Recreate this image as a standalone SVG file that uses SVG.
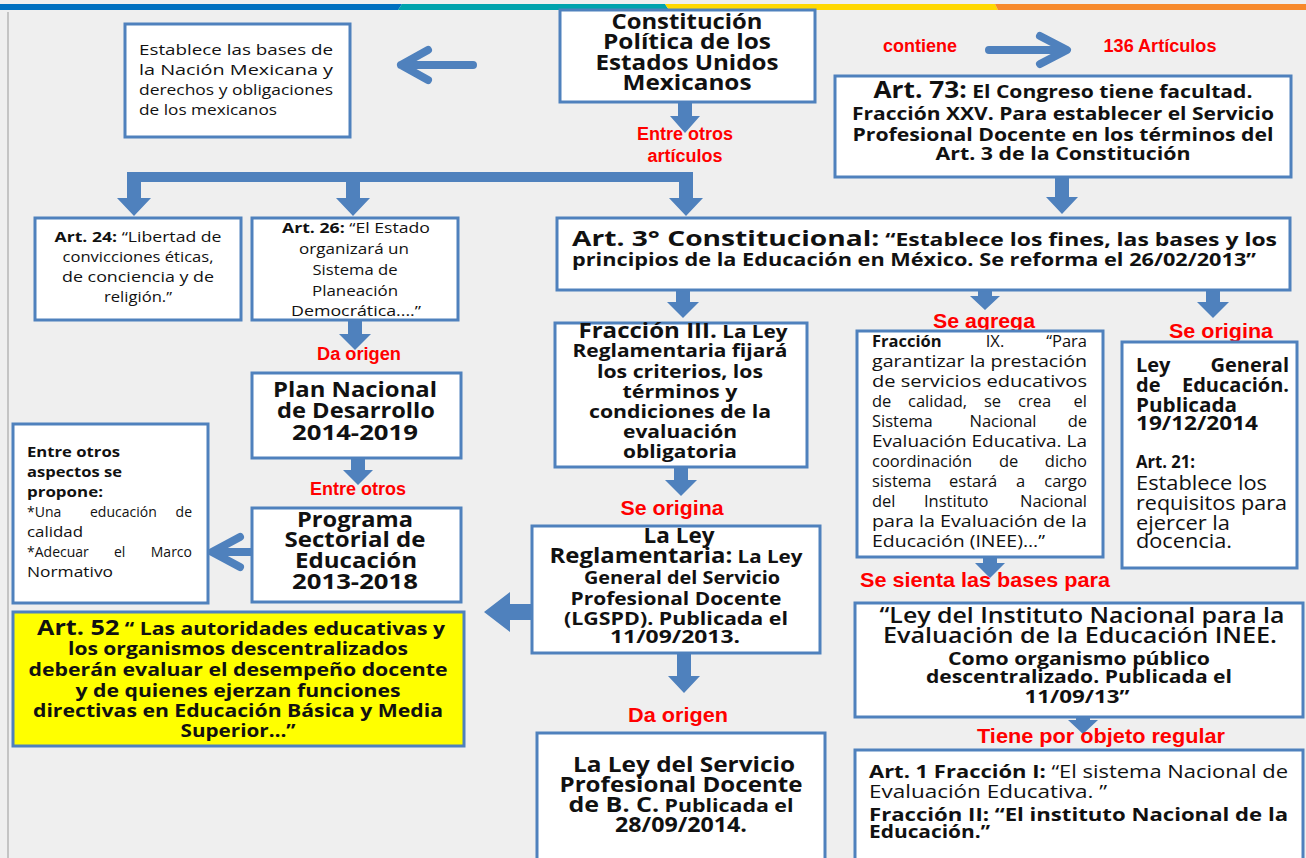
<svg xmlns="http://www.w3.org/2000/svg" width="1306" height="858" viewBox="0 0 1306 858">
<style>
.box{fill:#fff;stroke:#4f81bd;stroke-width:3}
.ybox{fill:#ffff00;stroke:#4f81bd;stroke-width:3}
.arr{fill:#4f81bd}
.chev{fill:none;stroke:#4f81bd;stroke-width:8;stroke-linecap:round;stroke-linejoin:round}
.red{font-family:"Liberation Sans",Arial,sans-serif;font-weight:bold;fill:#ff0000;text-anchor:middle}
.r18{font-size:18px}
.r21{font-size:21px}
.k{font-family:"Open Sans","Liberation Sans",sans-serif;fill:#111}
.b{font-weight:bold}
.m{text-anchor:middle}
.e{text-anchor:end}
</style>
<rect x="0" y="0" width="1306" height="858" fill="#efefef"/>
<g id="topbar">
<polygon points="0,4 402,4 398,10 0,10" fill="#0070c0"/>
<polygon points="402,4 665,4 669,10 398,10" fill="#00a3ad"/>
<polygon points="665,4 995,4 998,10 669,10" fill="#ffd800"/>
<polygon points="995,4 1306,4 1306,10 998,10" fill="#f7892b"/>
</g>
<line x1="8" y1="12" x2="8" y2="858" stroke="#c4c4c4" stroke-width="2"/>

<g id="connectors">
<path class="chev" d="M473,65 L401,65 M428,50 L401,65 L428,80"/>
<path class="chev" d="M989,50 L1066,50 M1040,36 L1067,50 L1040,64"/>
<path class="arr" d="M678,102 L692,102 L692,116 L700,116 L685,133 L670,116 L678,116 Z"/>
<rect class="arr" x="127" y="172" width="566" height="10"/>
<path class="arr" d="M127,177 L141,177 L141,198 L151,198 L134,216 L117,198 L127,198 Z"/>
<path class="arr" d="M346,177 L360,177 L360,198 L370,198 L353,216 L336,198 L346,198 Z"/>
<path class="arr" d="M679,177 L693,177 L693,198 L703,198 L686,216 L669,198 L679,198 Z"/>
<path class="arr" d="M1055,177 L1069,177 L1069,197 L1078,197 L1062,214 L1046,197 L1055,197 Z"/>
<path class="arr" d="M676,290 L690,290 L690,302 L699,302 L683,318 L667,302 L676,302 Z"/>
<path class="arr" d="M978,290 L992,290 L992,296 L1000,296 L985,310 L970,296 L978,296 Z"/>
<path class="arr" d="M1206,290 L1220,290 L1220,302 L1229,302 L1213,318 L1197,302 L1206,302 Z"/>
<path class="arr" d="M348,320 L362,320 L362,334 L371,334 L355,350 L339,334 L348,334 Z"/>
<path class="arr" d="M351,458 L365,458 L365,470 L373,470 L358,485 L343,470 L351,470 Z"/>
<path class="chev" d="M252,552 L214,552 M240,537 L212,552 L240,567"/>
<path class="arr" d="M674,467 L688,467 L688,480 L697,480 L681,496 L665,480 L674,480 Z"/>
<path class="arr" d="M677,653 L691,653 L691,676 L700,676 L684,693 L668,676 L677,676 Z"/>
<path class="arr" d="M531,604 L510,604 L510,592 L484,612 L510,632 L510,620 L531,620 Z"/>
<path class="arr" d="M983,557 L997,557 L997,563 L1005,563 L990,578 L975,563 L983,563 Z"/>
<path class="arr" d="M1076,717 L1090,717 L1090,720 L1098,720 L1083,734 L1068,720 L1076,720 Z"/>
</g>

<g id="labels">
<text class="red r18" x="685" y="140" textLength="96" lengthAdjust="spacingAndGlyphs">Entre otros</text>
<text class="red r18" x="685" y="162" textLength="75" lengthAdjust="spacingAndGlyphs">artículos</text>
<text class="red r18" x="920" y="52" textLength="74" lengthAdjust="spacingAndGlyphs">contiene</text>
<text class="red r18" x="1160" y="52" textLength="113" lengthAdjust="spacingAndGlyphs">136 Artículos</text>
<text class="red r18" x="359" y="360" textLength="84" lengthAdjust="spacingAndGlyphs">Da origen</text>
<text class="red r18" x="358" y="495" textLength="96" lengthAdjust="spacingAndGlyphs">Entre otros</text>
<text class="red r21" x="672" y="515" textLength="103" lengthAdjust="spacingAndGlyphs">Se origina</text>
<text class="red r21" x="678" y="722" textLength="100" lengthAdjust="spacingAndGlyphs">Da origen</text>
<text class="red r21" x="984" y="328" textLength="102" lengthAdjust="spacingAndGlyphs">Se agrega</text>
<text class="red r21" x="1221" y="338" textLength="104" lengthAdjust="spacingAndGlyphs">Se origina</text>
<text class="red r21" x="985" y="587" textLength="250" lengthAdjust="spacingAndGlyphs">Se sienta las bases para</text>
<text class="red r21" x="1101" y="743" textLength="248" lengthAdjust="spacingAndGlyphs">Tiene por objeto regular</text>
</g>

<g id="n-establece">
<rect class="box" x="125" y="24" width="225" height="113"/>
<g class="k" font-size="15">
<text x="139" y="55" textLength="194" lengthAdjust="spacingAndGlyphs">Establece las bases de</text>
<text x="139" y="75" textLength="194" lengthAdjust="spacingAndGlyphs">la Nación Mexicana y</text>
<text x="139" y="95" textLength="194" lengthAdjust="spacingAndGlyphs">derechos y obligaciones</text>
<text x="139" y="115" textLength="138" lengthAdjust="spacingAndGlyphs">de los mexicanos</text>
</g>
</g>

<g id="n-constitucion">
<rect class="box" x="560" y="10" width="255" height="92"/>
<g class="k b m" font-size="21">
<text x="687" y="29" textLength="151" lengthAdjust="spacingAndGlyphs">Constitución</text>
<text x="687" y="49" textLength="168" lengthAdjust="spacingAndGlyphs">Política de los</text>
<text x="687" y="70" textLength="183" lengthAdjust="spacingAndGlyphs">Estados Unidos</text>
<text x="687" y="90" textLength="129" lengthAdjust="spacingAndGlyphs">Mexicanos</text>
</g>
</g>

<g id="n-art73">
<rect class="box" x="835" y="76" width="456" height="101"/>
<g class="k b m" font-size="18.5">
<text x="1063" y="98" textLength="379" lengthAdjust="spacingAndGlyphs"><tspan font-size="23">Art. 73:</tspan> El Congreso tiene facultad.</text>
<text x="1063" y="120" textLength="422" lengthAdjust="spacingAndGlyphs">Fracción XXV. Para establecer el Servicio</text>
<text x="1063" y="141" textLength="421" lengthAdjust="spacingAndGlyphs">Profesional Docente en los términos del</text>
<text x="1063" y="160" textLength="255" lengthAdjust="spacingAndGlyphs">Art. 3 de la Constitución</text>
</g>
</g>

<g id="n-art24">
<rect class="box" x="35" y="218" width="206" height="102"/>
<g class="k m" font-size="15">
<text x="138" y="242" textLength="167" lengthAdjust="spacingAndGlyphs"><tspan font-weight="bold">Art. 24:</tspan> “Libertad de</text>
<text x="138" y="262" textLength="151" lengthAdjust="spacingAndGlyphs">convicciones éticas,</text>
<text x="138" y="282" textLength="152" lengthAdjust="spacingAndGlyphs">de conciencia y de</text>
<text x="138" y="302" textLength="68" lengthAdjust="spacingAndGlyphs">religión.”</text>
</g>
</g>

<g id="n-art26">
<rect class="box" x="252" y="218" width="206" height="102"/>
<g class="k m" font-size="15">
<text x="356" y="233" textLength="148" lengthAdjust="spacingAndGlyphs"><tspan font-weight="bold">Art. 26:</tspan> “El Estado</text>
<text x="354" y="254" textLength="110" lengthAdjust="spacingAndGlyphs">organizará un</text>
<text x="355" y="275" textLength="85" lengthAdjust="spacingAndGlyphs">Sistema de</text>
<text x="355" y="296" textLength="86" lengthAdjust="spacingAndGlyphs">Planeación</text>
<text x="356" y="316" textLength="130" lengthAdjust="spacingAndGlyphs">Democrática....”</text>
</g>
</g>

<g id="n-art3">
<rect class="box" x="557" y="218" width="733" height="72"/>
<g class="k b" font-size="17.5">
<text x="572" y="246" textLength="705" lengthAdjust="spacingAndGlyphs"><tspan font-size="21.5">Art. 3°  Constitucional:</tspan> “Establece los fines, las bases y los</text>
<text x="572" y="266" textLength="684" lengthAdjust="spacingAndGlyphs">principios de la Educación en México. Se reforma el 26/02/2013”</text>
</g>
</g>

<g id="n-fraccion3">
<rect class="box" x="555" y="323" width="252" height="144"/>
<g class="k b m" font-size="18.5">
<text x="683" y="338" textLength="209" lengthAdjust="spacingAndGlyphs"><tspan font-size="21.5">Fracción III.</tspan> La Ley</text>
<text x="680" y="357" textLength="215" lengthAdjust="spacingAndGlyphs">Reglamentaria fijará</text>
<text x="680" y="378" textLength="166" lengthAdjust="spacingAndGlyphs">los criterios, los</text>
<text x="680" y="398" textLength="115" lengthAdjust="spacingAndGlyphs">términos y</text>
<text x="680" y="418" textLength="182" lengthAdjust="spacingAndGlyphs">condiciones de la</text>
<text x="680" y="438" textLength="114" lengthAdjust="spacingAndGlyphs">evaluación</text>
<text x="680" y="458" textLength="114" lengthAdjust="spacingAndGlyphs">obligatoria</text>
</g>
</g>

<g id="n-leyreglamentaria">
<rect class="box" x="532" y="526" width="288" height="127"/>
<g class="k b m" font-size="18.5">
<text x="679" y="543" font-size="21.5" textLength="71" lengthAdjust="spacingAndGlyphs">La Ley</text>
<text x="676" y="563" textLength="253" lengthAdjust="spacingAndGlyphs"><tspan font-size="21.5">Reglamentaria:</tspan> La Ley</text>
<text x="682" y="584" textLength="196" lengthAdjust="spacingAndGlyphs">General del Servicio</text>
<text x="676" y="605" textLength="211" lengthAdjust="spacingAndGlyphs">Profesional Docente</text>
<text x="676" y="625" textLength="224" lengthAdjust="spacingAndGlyphs">(LGSPD). Publicada el</text>
<text x="675" y="643" textLength="130" lengthAdjust="spacingAndGlyphs">11/09/2013.</text>
</g>
</g>

<g id="n-leyservicio">
<rect class="box" x="537" y="733" width="288" height="140"/>
<g class="k b m" font-size="20.5">
<text x="684" y="772" textLength="222" lengthAdjust="spacingAndGlyphs">La Ley del Servicio</text>
<text x="681" y="792" textLength="243" lengthAdjust="spacingAndGlyphs">Profesional Docente</text>
<text x="681" y="812" textLength="225" lengthAdjust="spacingAndGlyphs">de B. C.<tspan font-size="17.5"> Publicada el</tspan></text>
<text x="681" y="832" textLength="132" lengthAdjust="spacingAndGlyphs">28/09/2014.</text>
</g>
</g>

<g id="n-plan">
<rect class="box" x="252" y="373" width="209" height="85"/>
<g class="k b m" font-size="21.5">
<text x="355" y="397" textLength="164" lengthAdjust="spacingAndGlyphs">Plan Nacional</text>
<text x="356" y="418" textLength="158" lengthAdjust="spacingAndGlyphs">de Desarrollo</text>
<text x="355" y="440" textLength="126" lengthAdjust="spacingAndGlyphs">2014-2019</text>
</g>
</g>

<g id="n-programa">
<rect class="box" x="252" y="508" width="209" height="94"/>
<g class="k b m" font-size="21.5">
<text x="355" y="527" textLength="116" lengthAdjust="spacingAndGlyphs">Programa</text>
<text x="355" y="547" textLength="141" lengthAdjust="spacingAndGlyphs">Sectorial de</text>
<text x="356" y="568" textLength="122" lengthAdjust="spacingAndGlyphs">Educación</text>
<text x="355" y="589" textLength="126" lengthAdjust="spacingAndGlyphs">2013-2018</text>
</g>
</g>

<g id="n-aspectos">
<rect class="box" x="13" y="424" width="195" height="179"/>
<g class="k" font-size="14">
<text x="27" y="457" font-weight="bold" textLength="93" lengthAdjust="spacingAndGlyphs">Entre otros</text>
<text x="27" y="477" font-weight="bold" textLength="95" lengthAdjust="spacingAndGlyphs">aspectos se</text>
<text x="27" y="497" font-weight="bold" textLength="76" lengthAdjust="spacingAndGlyphs">propone:</text>
<text x="27" y="517">*Una</text>
<text x="90" y="517">educación</text>
<text x="192" y="517" class="e">de</text>
<text x="27" y="537" textLength="56" lengthAdjust="spacingAndGlyphs">calidad</text>
<text x="27" y="557">*Adecuar</text>
<text x="114" y="557">el</text>
<text x="192" y="557" class="e">Marco</text>
<text x="27" y="577" textLength="86" lengthAdjust="spacingAndGlyphs">Normativo</text>
</g>
</g>

<g id="n-art52">
<rect class="ybox" x="13" y="612" width="451" height="134"/>
<g class="k b m" font-size="18">
<text x="241" y="635" textLength="408" lengthAdjust="spacingAndGlyphs"><tspan font-size="21.5">Art. 52</tspan> “ Las autoridades educativas y</text>
<text x="238" y="655" textLength="340" lengthAdjust="spacingAndGlyphs">los organismos descentralizados</text>
<text x="238" y="676" textLength="419" lengthAdjust="spacingAndGlyphs">deberán evaluar el desempeño docente</text>
<text x="238" y="697" textLength="325" lengthAdjust="spacingAndGlyphs">y de quienes ejerzan funciones</text>
<text x="238" y="717" textLength="410" lengthAdjust="spacingAndGlyphs">directivas en Educación Básica y Media</text>
<text x="238" y="737" textLength="115" lengthAdjust="spacingAndGlyphs">Superior…”</text>
</g>
</g>

<g id="n-fraccion9">
<rect class="box" x="857" y="331" width="246" height="226"/>
<g class="k" font-size="16.5">
<text x="872" y="347" font-weight="bold">Fracción</text>
<text x="995" y="347" class="m">IX.</text>
<text x="1087" y="347" class="e">“Para</text>
<text x="872" y="367" textLength="215" lengthAdjust="spacingAndGlyphs">garantizar la prestación</text>
<text x="872" y="387" textLength="215" lengthAdjust="spacingAndGlyphs">de servicios educativos</text>
<text x="872" y="407">de</text>
<text x="908" y="407">calidad,</text>
<text x="984" y="407">se</text>
<text x="1018" y="407">crea</text>
<text x="1087" y="407" class="e">el</text>
<text x="872" y="427">Sistema</text>
<text x="1003" y="427" class="m">Nacional</text>
<text x="1087" y="427" class="e">de</text>
<text x="872" y="447" textLength="215" lengthAdjust="spacingAndGlyphs">Evaluación Educativa. La</text>
<text x="872" y="467">coordinación</text>
<text x="999" y="467">de</text>
<text x="1087" y="467" class="e">dicho</text>
<text x="872" y="487">sistema</text>
<text x="949" y="487">estará</text>
<text x="1016" y="487">a</text>
<text x="1087" y="487" class="e">cargo</text>
<text x="872" y="507">del</text>
<text x="924" y="507">Instituto</text>
<text x="1087" y="507" class="e">Nacional</text>
<text x="872" y="527" textLength="215" lengthAdjust="spacingAndGlyphs">para la Evaluación de la</text>
<text x="872" y="547" textLength="173" lengthAdjust="spacingAndGlyphs">Educación (INEE)...”</text>
</g>
</g>

<g id="n-leygeneral">
<rect class="box" x="1122" y="342" width="175" height="226"/>
<g class="k" font-size="20">
<text x="1136" y="372" font-weight="bold">Ley</text>
<text x="1289" y="372" font-weight="bold" class="e">General</text>
<text x="1136" y="392" font-weight="bold">de</text>
<text x="1289" y="392" font-weight="bold" class="e">Educación.</text>
<text x="1136" y="412" font-weight="bold" textLength="101" lengthAdjust="spacingAndGlyphs">Publicada</text>
<text x="1136" y="430" font-weight="bold" textLength="122" lengthAdjust="spacingAndGlyphs">19/12/2014</text>
<text x="1136" y="468" font-weight="bold" font-size="18" textLength="59" lengthAdjust="spacingAndGlyphs">Art. 21:</text>
<text x="1136" y="490" textLength="131" lengthAdjust="spacingAndGlyphs">Establece los</text>
<text x="1136" y="510" textLength="151" lengthAdjust="spacingAndGlyphs">requisitos para</text>
<text x="1136" y="530" textLength="94" lengthAdjust="spacingAndGlyphs">ejercer la</text>
<text x="1136" y="548" textLength="96" lengthAdjust="spacingAndGlyphs">docencia.</text>
</g>
</g>

<g id="n-inee">
<rect class="box" x="855" y="603" width="448" height="114"/>
<g class="k m" font-size="21.5">
<text x="1082" y="623" font-weight="600" textLength="405" lengthAdjust="spacingAndGlyphs">“Ley del Instituto Nacional para la</text>
<text x="1080" y="643" font-weight="600" textLength="394" lengthAdjust="spacingAndGlyphs">Evaluación de la Educación INEE.</text>
<text x="1079" y="665" font-size="18" font-weight="bold" textLength="262" lengthAdjust="spacingAndGlyphs">Como organismo público</text>
<text x="1079" y="683" font-size="18" font-weight="bold" textLength="306" lengthAdjust="spacingAndGlyphs">descentralizado. Publicada el</text>
<text x="1077" y="703" font-size="18" font-weight="bold" textLength="105" lengthAdjust="spacingAndGlyphs">11/09/13”</text>
</g>
</g>

<g id="n-art1">
<rect class="box" x="855" y="750" width="448" height="120"/>
<g class="k" font-size="18.5">
<text x="869" y="778" textLength="419" lengthAdjust="spacingAndGlyphs"><tspan font-weight="bold">Art. 1 Fracción I:</tspan> “El sistema Nacional de</text>
<text x="869" y="798" textLength="238" lengthAdjust="spacingAndGlyphs">Evaluación Educativa. ”</text>
<text x="869" y="821" font-weight="bold" textLength="419" lengthAdjust="spacingAndGlyphs">Fracción II: “El instituto Nacional de la</text>
<text x="869" y="838" font-weight="bold" textLength="121" lengthAdjust="spacingAndGlyphs">Educación.”</text>
</g>
</g>
</svg>
